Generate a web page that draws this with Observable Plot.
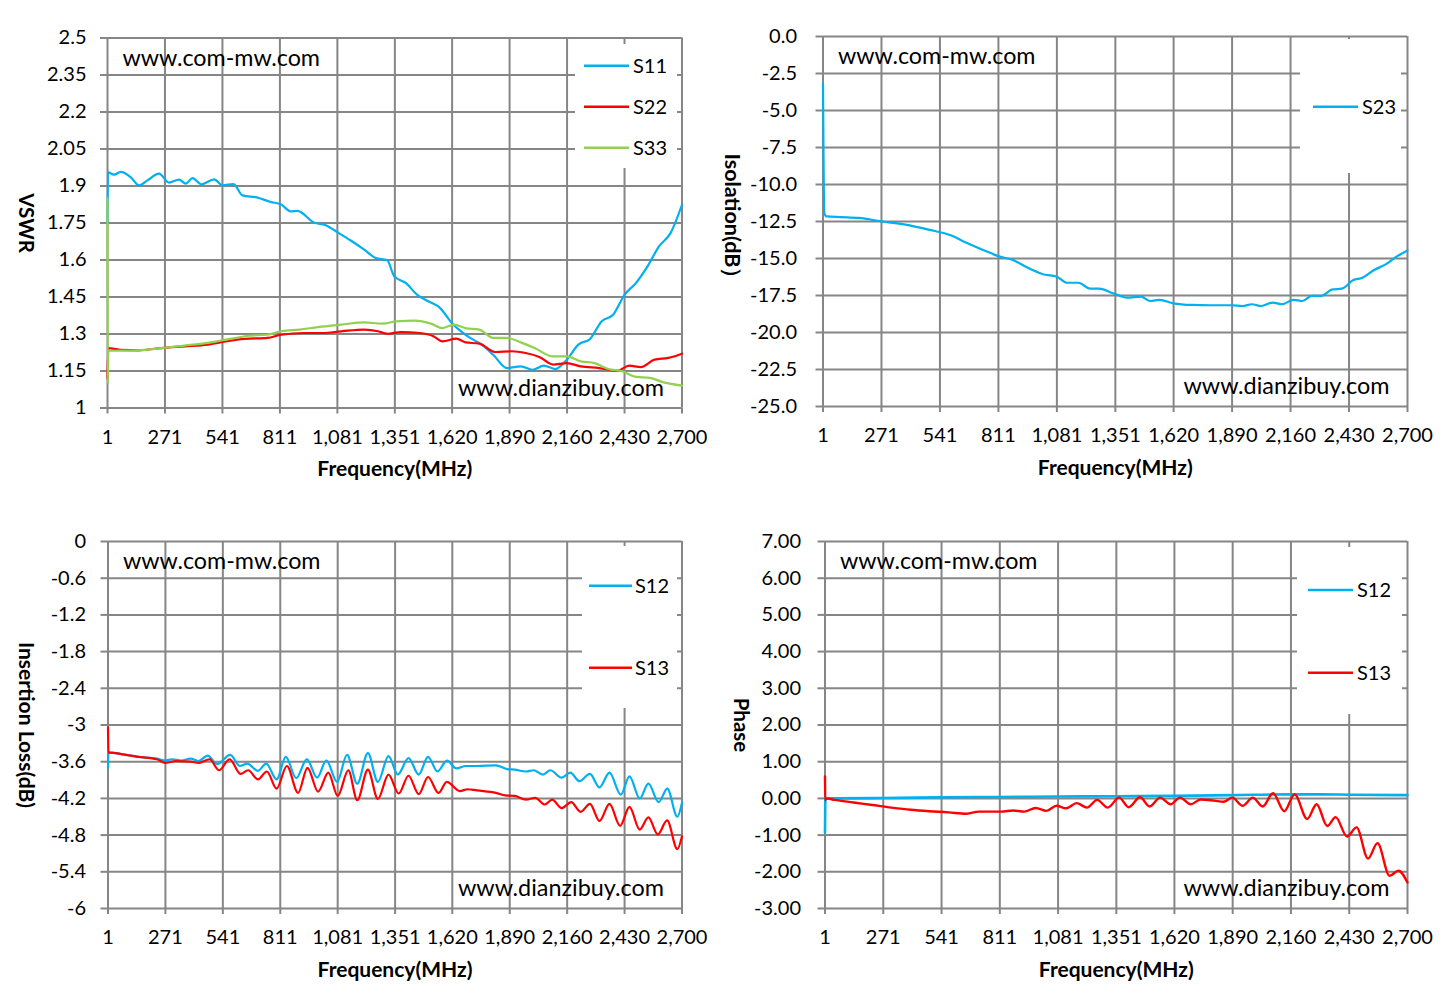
<!DOCTYPE html>
<html><head><meta charset="utf-8">
<script src="https://cdn.jsdelivr.net/npm/d3@7"></script>
<script src="https://cdn.jsdelivr.net/npm/@observablehq/plot@0.6"></script>
<style>
html,body{margin:0;padding:0;background:#fff;}
#page{position:relative;width:1445px;height:1003px;overflow:hidden;background:#fff;}
.panel{position:absolute;}
.legend{position:absolute;background:#fff;}
</style></head>
<body><div id="page"></div>
<script>
// ---------- shared axis ----------
const xTicks = [1, 271, 541, 811, 1081, 1351, 1620, 1890, 2160, 2430, 2700];
const xTitle = "Frequency(MHz)";
const siteA = "www.com-mw.com";
const siteB = "www.dianzibuy.com";

// ---------- Panel 1: VSWR ----------
const vswrTicks = [1, 1.15, 1.3, 1.45, 1.6, 1.75, 1.9, 2.05, 2.2, 2.35, 2.5];
const s11Freq = [1,3,32,63,110,149,189,243,290,337,369,400,443,502,541,593,635,706,768,815,862,893,971,1026,1088,1142,1207,1261,1315,1348,1402,1456,1510,1564,1618,1662,1705,1759,1813,1878,1943,1997,2051,2105,2159,2213,2268,2322,2376,2430,2484,2538,2592,2646,2700];
const s11Vswr = [1.75,1.955,1.946,1.957,1.936,1.903,1.923,1.950,1.914,1.926,1.910,1.932,1.907,1.927,1.903,1.908,1.862,1.853,1.835,1.826,1.797,1.799,1.752,1.741,1.709,1.680,1.642,1.608,1.599,1.534,1.507,1.459,1.432,1.405,1.345,1.311,1.284,1.257,1.216,1.162,1.169,1.155,1.172,1.158,1.196,1.257,1.280,1.351,1.378,1.459,1.507,1.574,1.655,1.709,1.824];
const s22Freq = [1,4,59,146,254,363,471,557,644,752,817,925,1012,1099,1207,1272,1315,1380,1467,1532,1575,1640,1683,1748,1824,1900,1965,2030,2095,2159,2224,2311,2398,2452,2506,2571,2636,2700];
const s22Vswr = [1.12,1.243,1.236,1.234,1.243,1.250,1.257,1.270,1.280,1.284,1.297,1.304,1.304,1.311,1.318,1.311,1.301,1.308,1.304,1.291,1.270,1.281,1.266,1.261,1.227,1.230,1.223,1.207,1.176,1.182,1.169,1.162,1.151,1.172,1.166,1.196,1.203,1.220];
const s33Freq = [1,2,5,146,254,363,471,557,666,752,817,904,990,1099,1207,1293,1358,1445,1521,1575,1629,1683,1748,1813,1878,1943,2008,2095,2159,2224,2289,2354,2419,2484,2549,2614,2700];
const s33Vswr = [1.85,1.10,1.232,1.234,1.243,1.253,1.264,1.277,1.293,1.297,1.311,1.318,1.328,1.338,1.347,1.342,1.351,1.354,1.342,1.324,1.338,1.324,1.318,1.284,1.284,1.266,1.243,1.209,1.209,1.189,1.182,1.158,1.149,1.126,1.122,1.104,1.091];

// ---------- Panel 2: Isolation ----------
const isoTicks = [-25, -22.5, -20, -17.5, -15, -12.5, -10, -7.5, -5, -2.5, 0];
const s23Freq = [1,7,18,82,167,270,381,488,594,658,744,810,872,957,1021,1081,1128,1181,1234,1277,1341,1405,1469,1512,1555,1619,1704,1789,1890,1939,1981,2024,2077,2120,2173,2215,2258,2301,2354,2396,2450,2492,2546,2599,2653,2700];
const s23Iso = [-3.18,-11.93,-12.15,-12.20,-12.26,-12.49,-12.71,-13.05,-13.45,-13.90,-14.44,-14.84,-15.07,-15.70,-16.08,-16.23,-16.64,-16.64,-17.04,-17.04,-17.35,-17.65,-17.58,-17.87,-17.80,-18.03,-18.14,-18.16,-18.16,-18.21,-18.09,-18.21,-17.98,-18.09,-17.80,-17.87,-17.53,-17.53,-17.09,-17.04,-16.46,-16.30,-15.78,-15.40,-14.84,-14.46];

// ---------- Panel 3: Insertion loss ----------
const ilTicks = [-6, -5.4, -4.8, -4.2, -3.6, -3, -2.4, -1.8, -1.2, -0.6, 0];
const s12IlFreq = [1,3,10,72,143,231,270,302,346,390,426,470,514,576,621,656,706,745,794,837,886,936,984,1028,1078,1125,1173,1223,1270,1320,1364,1414,1462,1506,1550,1595,1639,1683,1736,1825,1878,1913,1966,2002,2046,2081,2134,2175,2218,2267,2312,2359,2412,2453,2501,2542,2590,2631,2678,2700];
const s12Il = [-3.70,-3.45,-3.45,-3.48,-3.52,-3.55,-3.58,-3.56,-3.58,-3.55,-3.59,-3.50,-3.64,-3.49,-3.67,-3.63,-3.75,-3.63,-3.89,-3.52,-3.87,-3.56,-3.86,-3.58,-3.93,-3.49,-3.96,-3.46,-3.93,-3.51,-3.81,-3.54,-3.81,-3.52,-3.76,-3.58,-3.71,-3.67,-3.67,-3.66,-3.72,-3.73,-3.76,-3.74,-3.81,-3.74,-3.86,-3.78,-3.92,-3.80,-4.02,-3.78,-4.14,-3.84,-4.20,-3.96,-4.26,-4.04,-4.50,-4.27];
const s13IlFreq = [1,3,10,72,143,231,270,320,390,429,479,523,573,624,660,706,748,794,842,895,939,989,1037,1081,1131,1173,1223,1270,1320,1368,1414,1462,1506,1555,1594,1656,1692,1736,1825,1869,1913,1966,2010,2055,2090,2134,2179,2223,2267,2312,2359,2409,2453,2501,2542,2586,2630,2678,2700];
const s13Il = [-3.04,-3.45,-3.45,-3.48,-3.52,-3.56,-3.62,-3.59,-3.60,-3.62,-3.56,-3.74,-3.56,-3.80,-3.74,-3.89,-3.76,-4.04,-3.67,-4.11,-3.70,-4.09,-3.78,-4.16,-3.74,-4.23,-3.73,-4.21,-3.81,-4.12,-3.83,-4.13,-3.85,-4.11,-3.93,-4.08,-4.05,-4.07,-4.11,-4.15,-4.16,-4.22,-4.19,-4.30,-4.22,-4.36,-4.26,-4.42,-4.29,-4.57,-4.29,-4.65,-4.34,-4.71,-4.51,-4.79,-4.56,-5.03,-4.82];

// ---------- Panel 4: Phase ----------
const phTicks = [-3, -2, -1, 0, 1, 2, 3, 4, 5, 6, 7];
const s12PhFreq = [1,3,50,271,541,811,1081,1351,1620,1890,2160,2300,2430,2700];
const s12Ph = [-0.93,0.0,0.0,0.01,0.03,0.04,0.05,0.06,0.07,0.09,0.11,0.11,0.10,0.09];
const s13PhFreq = [1,2,6,45,133,221,309,397,485,573,657,713,819,872,924,977,1027,1074,1118,1167,1215,1262,1311,1364,1408,1461,1505,1554,1602,1646,1695,1742,1804,1848,1888,1936,1983,2029,2077,2129,2177,2235,2279,2328,2367,2420,2464,2517,2561,2617,2658,2700];
const s13Ph = [0.60,-0.05,0.0,-0.04,-0.11,-0.18,-0.25,-0.31,-0.35,-0.38,-0.42,-0.36,-0.36,-0.33,-0.36,-0.26,-0.34,-0.20,-0.27,-0.13,-0.25,-0.04,-0.25,0.02,-0.24,0.03,-0.22,0.02,-0.16,0.02,-0.16,-0.03,-0.06,-0.09,0.02,-0.20,0.02,-0.22,0.14,-0.35,0.11,-0.56,-0.16,-0.75,-0.51,-1.04,-0.79,-1.64,-1.22,-2.11,-1.97,-2.29];

// ---------- styling ----------
const GRID = "#868686", BLUE = "#00B0F0", RED = "#FF0000", GREEN = "#92D050";
const FONT = "Lato, 'Open Sans', sans-serif";
const TICK_FS = 20;
const xFmt = d3.format(",");
const rows = (fs, vs) => fs.map((f, i) => ({f, v: vs[i]}));

const page = document.getElementById("page");

function panel(cfg) {
  const {left, top, width, height, x0, x1, y0, y1, yDomain, yTicks, yFmt, yPad, series, yTitle, yTitleDx, yTitleFs} = cfg;
  const chart = Plot.plot({
    width, height,
    marginLeft: x0 - left, marginRight: left + width - x1,
    marginTop: y0 - top, marginBottom: top + height - y1,
    x: {domain: [1, 2700]},
    y: {domain: yDomain},
    style: {fontFamily: FONT, fontSize: TICK_FS + "px", color: "#000", background: "transparent", overflow: "visible"},
    marks: [
      Plot.ruleY(yTicks, {stroke: GRID, strokeWidth: 2}),
      Plot.ruleX(xTicks, {stroke: GRID, strokeWidth: 2}),
      Plot.axisX({ticks: xTicks, tickFormat: xFmt, tickSize: 6, tickPadding: 15.5, stroke: GRID, strokeWidth: 2, label: null}),
      Plot.axisY({ticks: yTicks, tickFormat: yFmt, tickSize: 7, tickPadding: yPad, stroke: GRID, strokeWidth: 2, label: null}),
      ...series.map(s => Plot.line(s.data, {x: "f", y: "v", stroke: s.color, strokeWidth: s.width || 2.2, curve: "monotone-x"})),
      Plot.text([siteA], {text: d => d, frameAnchor: "top-left", textAnchor: "start", dx: 15, dy: 27.5, lineAnchor: "bottom", fontSize: 23.3}),
      Plot.text([siteB], {text: d => d, frameAnchor: "bottom-right", textAnchor: "end", dx: -18, dy: -12.5, lineAnchor: "bottom", fontSize: 23.4}),
      Plot.text([xTitle], {text: d => d, frameAnchor: "bottom", textAnchor: "middle", dy: 68, lineAnchor: "bottom", fontWeight: "bold", fontSize: 21}),
      Plot.text([yTitle], {text: d => d, frameAnchor: "left", textAnchor: "middle", lineAnchor: "middle", dx: yTitleDx, rotate: 90, fontWeight: "bold", fontSize: yTitleFs || 20.5})
    ]
  });
  const holder = document.createElement("div");
  holder.className = "panel";
  holder.style.left = left + "px";
  holder.style.top = top + "px";
  holder.appendChild(chart);
  page.appendChild(holder);

  // legend box (white, over the grid)
  const lg = cfg.legend;
  const box = document.createElement("div");
  box.className = "legend";
  box.style.left = lg.left + "px";
  box.style.top = lg.top + "px";
  box.style.width = lg.w + "px";
  box.style.height = lg.h + "px";
  page.appendChild(box);
  const svg = d3.select(box).append("svg").attr("width", lg.w).attr("height", lg.h)
    .style("overflow", "visible").style("font-family", FONT);
  series.forEach((s, i) => {
    const y = lg.ys[i] - lg.top;
    svg.append("line").attr("x1", lg.lx0 - lg.left).attr("x2", lg.lx1 - lg.left)
      .attr("y1", y).attr("y2", y).attr("stroke", s.color).attr("stroke-width", 2.4);
    svg.append("text").attr("x", lg.tx - lg.left).attr("y", y).attr("dy", "0.36em")
      .attr("font-size", TICK_FS).attr("fill", "#000").text(s.name);
  });
}

panel({
  left: 0, top: 0, width: 720, height: 500,
  x0: 107, x1: 681.5, y0: 37.5, y1: 407.5,
  yDomain: [1, 2.5], yTicks: vswrTicks, yFmt: d => String(d), yPad: 14,
  yTitle: "VSWR", yTitleDx: -82,
  series: [
    {name: "S11", color: BLUE, data: rows(s11Freq, s11Vswr)},
    {name: "S22", color: RED, data: rows(s22Freq, s22Vswr)},
    {name: "S33", color: GREEN, data: rows(s33Freq, s33Vswr)}
  ],
  legend: {left: 575, top: 44, w: 102, h: 124, ys: [65.7, 106.7, 147.7], lx0: 584, lx1: 629, tx: 633}
});

panel({
  left: 720, top: 0, width: 725, height: 500,
  x0: 822.5, x1: 1407, y0: 36, y1: 406,
  yDomain: [-25, 0], yTicks: isoTicks, yFmt: d => d.toFixed(1), yPad: 19,
  yTitle: "Isolation(dB）", yTitleDx: -91.5, yTitleFs: 21.5,
  series: [
    {name: "S23", color: BLUE, data: rows(s23Freq, s23Iso)}
  ],
  legend: {left: 1300, top: 39, w: 101, h: 134, ys: [106.7], lx0: 1313, lx1: 1358, tx: 1362}
});

panel({
  left: 0, top: 500, width: 720, height: 503,
  x0: 107.5, x1: 681.5, y0: 541, y1: 908,
  yDomain: [-6, 0], yTicks: ilTicks, yFmt: d => String(d), yPad: 15,
  yTitle: "Insertion Loss(dB)", yTitleDx: -82.5, yTitleFs: 21,
  series: [
    {name: "S12", color: BLUE, data: rows(s12IlFreq, s12Il)},
    {name: "S13", color: RED, data: rows(s13IlFreq, s13Il)}
  ],
  legend: {left: 582, top: 546, w: 95, h: 162, ys: [585.7, 667.7], lx0: 589, lx1: 632, tx: 635}
});

panel({
  left: 720, top: 500, width: 725, height: 503,
  x0: 824.5, x1: 1407, y0: 541, y1: 908,
  yDomain: [-3, 7], yTicks: phTicks, yFmt: d => d.toFixed(2), yPad: 17,
  yTitle: "Phase", yTitleDx: -84.5,
  series: [
    {name: "S12", color: BLUE, data: rows(s12PhFreq, s12Ph), width: 2.6},
    {name: "S13", color: RED, data: rows(s13PhFreq, s13Ph), width: 2.4}
  ],
  legend: {left: 1297, top: 547, w: 105, h: 167, ys: [590, 672.7], lx0: 1308, lx1: 1353, tx: 1357}
});
</script>
</body></html>
